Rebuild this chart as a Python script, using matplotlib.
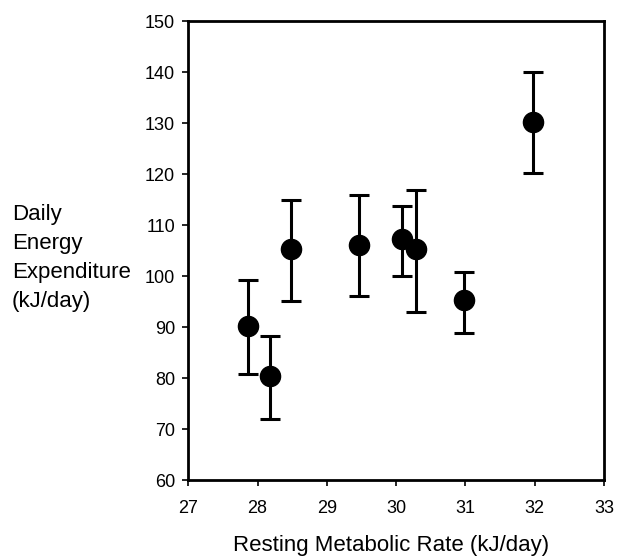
import matplotlib
matplotlib.use("Agg")
import matplotlib.pyplot as plt

plt.rcParams['font.family'] = ['Liberation Sans', 'DejaVu Sans']

rmr = [27.87, 28.18, 28.48, 29.47, 30.08, 30.29, 30.98, 31.98]
dee = [90.2, 80.4, 105.3, 106.2, 107.3, 105.3, 95.4, 130.3]
upper = [99.3, 88.2, 115.0, 116.0, 113.8, 116.9, 100.8, 140.0]
lower = [80.9, 72.0, 95.1, 96.1, 100.0, 92.9, 88.8, 120.3]

xticks = [27, 28, 29, 30, 31, 32, 33]
yticks = [60, 70, 80, 90, 100, 110, 120, 130, 140, 150]

fig = plt.figure(figsize=(6.19, 5.57), dpi=100)
ax = fig.add_axes([0.304, 0.138, 0.672, 0.824])

yerr = [[d - l for d, l in zip(dee, lower)], [u - d for u, d in zip(upper, dee)]]
ax.errorbar(rmr, dee, yerr=yerr, fmt='o', color='black', markersize=14.5,
            elinewidth=2.2, capsize=7.5, capthick=2.2)

ax.set_xlim(27, 33)
ax.set_ylim(60, 150)
ax.set_xticks(xticks)
ax.set_yticks(yticks)
ax.tick_params(direction='out', length=4.5, width=1.2, labelsize=13, colors='black')
ax.tick_params(axis='x', pad=10)
ax.tick_params(axis='y', pad=5)
for s in ax.spines.values():
    s.set_linewidth(2)

ax.set_xlabel('Resting Metabolic Rate (kJ/day)', fontsize=16)
ax.xaxis.set_label_coords((391 - 188) / (604 - 188), -(545 - 480) / (480 - 21))
ax.xaxis.label.set_va('center')
fig.text(12/619, 1 - 258/557, 'Daily\nEnergy\nExpenditure\n(kJ/day)', fontsize=16,
         ha='left', va='center', linespacing=1.52)

fig.savefig('out.png', dpi=100)
